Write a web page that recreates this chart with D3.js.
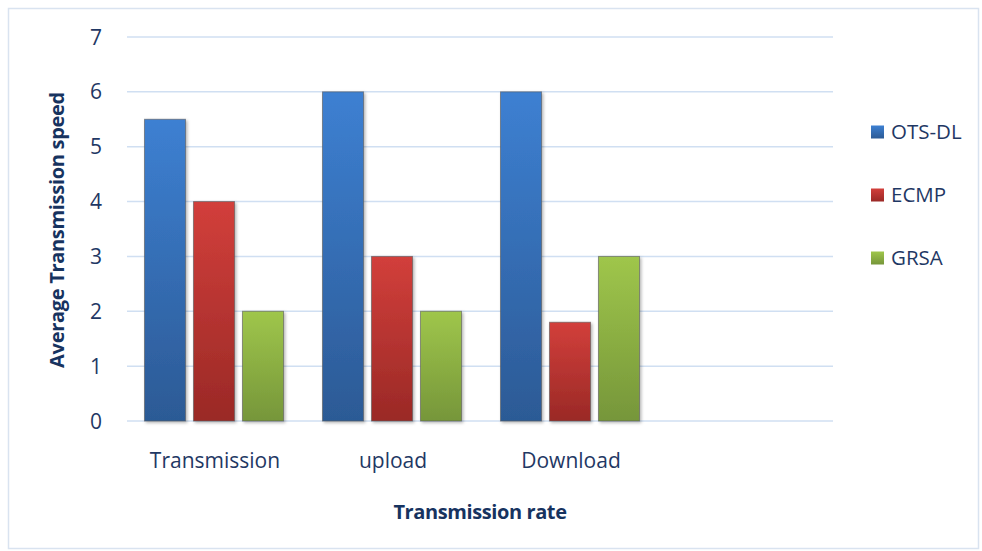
<!DOCTYPE html>
<html>
<head>
<meta charset="utf-8">
<script src="https://cdn.jsdelivr.net/npm/d3@7"></script>
<style>
  body { margin: 0; background: #fff; }
  text { font-family: "Open Sans", "Noto Sans", sans-serif; fill: #1f3864; }
</style>
</head>
<body>
<svg id="chart" width="982" height="551"></svg>
<script>
// data
var categories = ["Transmission", "upload", "Download", ""];
var seriesNames = ["OTS-DL", "ECMP", "GRSA"];
var otsdl = [5.5, 6, 6];
var ecmp = [4, 3, 1.8];
var grsa = [2, 2, 3];
var yTicks = [0, 1, 2, 3, 4, 5, 6, 7];

var seriesValues = [otsdl, ecmp, grsa];
var colors = [
  { top: "#3d80d2", bottom: "#2c5a95" },
  { top: "#d23f3b", bottom: "#9a2926" },
  { top: "#9fc64b", bottom: "#76963a" }
];

var svg = d3.select("#chart");

// outer frame
svg.append("rect")
  .attr("x", 8.5).attr("y", 8.5)
  .attr("width", 970).attr("height", 540)
  .attr("fill", "none")
  .attr("stroke", "#d9e3f0")
  .attr("stroke-width", 1.5);

var defs = svg.append("defs");
colors.forEach(function(c, i){
  var g = defs.append("linearGradient")
    .attr("id", "grad" + i)
    .attr("x1", 0).attr("y1", 0).attr("x2", 0).attr("y2", 1);
  g.append("stop").attr("offset", "0%").attr("stop-color", c.top);
  g.append("stop").attr("offset", "100%").attr("stop-color", c.bottom);
});
var shadow = defs.append("filter").attr("id", "shadow")
  .attr("x", "-20%").attr("y", "-20%").attr("width", "150%").attr("height", "150%");
shadow.append("feDropShadow")
  .attr("dx", 1.5).attr("dy", 1.5).attr("stdDeviation", 1.5)
  .attr("flood-color", "#000").attr("flood-opacity", 0.3);

var x = d3.scaleBand().domain(categories).range([126, 838]);
var y = d3.scaleLinear().domain([0, 7]).range([421, 37]);

// gridlines
svg.append("g")
  .selectAll("line")
  .data(yTicks)
  .enter().append("line")
  .attr("x1", 127).attr("x2", 833)
  .attr("y1", function(d){ return y(d); })
  .attr("y2", function(d){ return y(d); })
  .attr("stroke", "#d0dff2")
  .attr("stroke-width", 1.5);

// y tick labels
svg.append("g")
  .selectAll("text")
  .data(yTicks)
  .enter().append("text")
  .attr("x", 102)
  .attr("y", function(d){ return y(d); })
  .attr("dy", "0.36em")
  .attr("text-anchor", "end")
  .style("font-size", "21px")
  .text(function(d){ return d; });

// bars
var groupWidth = 139;
var xs = d3.scaleBand().domain(d3.range(3)).range([0, groupWidth]).paddingInner(0.163);

var groups = svg.append("g")
  .selectAll("g")
  .data(categories.slice(0, 3))
  .enter().append("g")
  .attr("transform", function(d){
    return "translate(" + (x(d) + (x.bandwidth() - groupWidth) / 2 - 1) + ",0)";
  });

groups.selectAll("rect")
  .data(function(d, ci){
    return seriesValues.map(function(vals, si){ return { s: si, v: vals[ci] }; });
  })
  .enter().append("rect")
  .attr("x", function(d){ return xs(d.s); })
  .attr("y", function(d){ return y(d.v); })
  .attr("width", xs.bandwidth())
  .attr("height", function(d){ return y(0) - y(d.v); })
  .attr("fill", function(d){ return "url(#grad" + d.s + ")"; })
  .attr("stroke", "rgba(90,90,90,0.6)")
  .attr("stroke-width", 1)
  .attr("filter", "url(#shadow)");

// x labels
svg.append("g")
  .selectAll("text")
  .data(categories.slice(0, 3))
  .enter().append("text")
  .attr("x", function(d){ return x(d) + x.bandwidth() / 2; })
  .attr("y", 468)
  .attr("text-anchor", "middle")
  .style("font-size", "21px")
  .text(function(d){ return d; });

// axis titles
svg.append("text")
  .attr("x", 480).attr("y", 519)
  .attr("text-anchor", "middle")
  .style("font-size", "20px")
  .style("font-weight", "bold")
  .style("letter-spacing", "-0.4px")
  .style("fill", "#17335f")
  .text("Transmission rate");

svg.append("text")
  .attr("transform", "translate(64,230) rotate(-90)")
  .attr("text-anchor", "middle")
  .style("font-size", "20px")
  .style("font-weight", "bold")
  .style("letter-spacing", "-0.3px")
  .style("fill", "#17335f")
  .text("Average Transmission speed");

// legend
var legend = svg.append("g")
  .selectAll("g")
  .data(seriesNames)
  .enter().append("g")
  .attr("transform", function(d, i){ return "translate(871," + (132 + i * 63) + ")"; });

legend.append("rect")
  .attr("x", 0).attr("y", -6.5)
  .attr("width", 13).attr("height", 13)
  .attr("fill", function(d, i){ return "url(#grad" + i + ")"; });

legend.append("text")
  .attr("x", 20).attr("y", 0)
  .attr("dy", "0.36em")
  .style("font-size", "20.5px")
  .text(function(d){ return d; });
</script>
</body>
</html>
